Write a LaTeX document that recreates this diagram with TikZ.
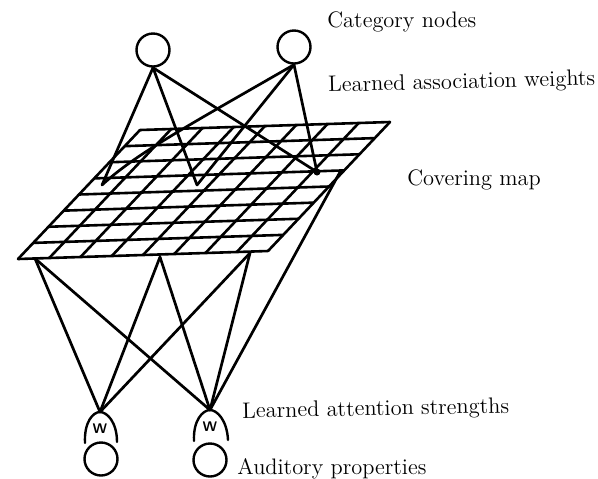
\documentclass[tikz,border=0pt]{standalone}
\usetikzlibrary{calc}
\begin{document}
\begin{tikzpicture}[x=0.5pt,y=-0.5pt,line join=round,line cap=round,
  unit/.style={circle,draw,line width=1.2pt,minimum size=16.5pt,inner sep=0pt},
  lbl/.style={anchor=base west,inner sep=0pt,font=\fontsize{11.2}{13}\selectfont},
  link/.style={line width=1.35pt},
  gridline/.style={line width=1.3pt},
  wlabel/.style={inner sep=0pt,font=\fontsize{7}{8}\selectfont\sffamily\bfseries}]
\useasboundingbox (0,0) rectangle (598,478);
% covering map grid
\coordinate (BL) at (18,259);
\coordinate (BR) at (268,251);
\coordinate (TL) at (140,130);
\coordinate (TR) at (390,122);
\foreach \i in {0,...,8} {
  \draw[gridline] ($(BL)!\i/8!(BR)$) -- ($(TL)!\i/8!(TR)$);
  \draw[gridline] ($(BL)!\i/8!(TL)$) -- ($(BR)!\i/8!(TR)$);
}
% category nodes
\node[unit] (c1) at (153,50) {};
\node[unit] (c2) at (294,47) {};
% map points receiving association weights
\coordinate (v1) at (102,185);
\coordinate (v2) at (197,185);
\coordinate (m3) at (317,172);
\fill (m3) circle (3.5);
\draw[link] (c1.south) -- (v1);
\draw[link] (c1.south) -- (v2);
\draw[link] (c1.south) -- (m3);
\draw[link] (v1) .. controls (135,155) and (175,133) .. (c2.south);
\draw[link] (v2) -- (c2.south);
\draw[link] (m3) -- (c2.south);
% map points feeding the attention units
\coordinate (p1) at (35,258.5);
\coordinate (p2) at (160,257);
\coordinate (p3) at (250,253);
\coordinate (p4) at (340,172);
% attention units
\coordinate (w1) at (100,412);
\coordinate (w2) at (210,410);
\draw[link] (p1) -- (w1);
\draw[link] (p2) -- (w1);
\draw[link] (p3) -- (w1);
\draw[link] (p1) -- (w2);
\draw[link] (p2) -- (w2);
\draw[link] (p3) -- (w2);
\draw[link] (p4) -- (w2);
\draw[line width=1.2pt] (85,443) .. controls (84,422) and (93,412) .. (w1)
   .. controls (107,412) and (117,422) .. (117,442);
\draw[line width=1.2pt] (194,441) .. controls (193,420) and (203,410) .. (w2)
   .. controls (217,410) and (227,420) .. (228,440);
\node[wlabel] (wl1) at (100,429) {W};
\node[wlabel] (wl2) at (210,427) {W};
\node[unit] (a1) at (101,459) {};
\node[unit] (a2) at (210,460) {};
% labels
\node[lbl] (t1) at (327,27) {Category nodes};
\node[lbl,rotate=1.5] (t2) at (328,92) {Learned association weights};
\node[lbl] (t3) at (407,185) {Covering map};
\node[lbl,rotate=1.1] (t4) at (242,418) {Learned attention strengths};
\node[lbl] (t5) at (237,474) {Auditory properties};
\end{tikzpicture}
\end{document}
